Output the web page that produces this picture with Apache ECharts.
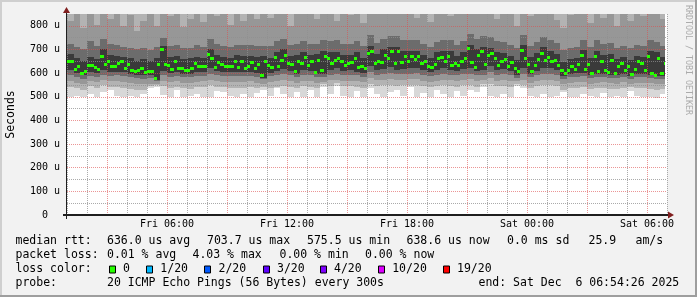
<!DOCTYPE html>
<html><head><meta charset="utf-8">
<script src="https://cdn.jsdelivr.net/npm/echarts@6/dist/echarts.min.js"></script>
<style>html,body{margin:0;padding:0;background:#F2F2F2}#c{width:697px;height:297px}</style>
</head><body><div id="c"></div>
<script>
// ---- data (hours counted from Fri 00:00) ----
const startHour = 1;          // Fri 01:00
const endHour = 31;           // Sat 07:00
const dataEndHour = 30.9;     // Sat 06:54
const medianStepMin = 10;
const smokeStepMin = 20;
const yMaxUs = 850;

const xTickHours = [6, 12, 18, 24, 30];
const xTickLabels = ['Fri 06:00', 'Fri 12:00', 'Fri 18:00', 'Sat 00:00', 'Sat 06:00'];
const yTickValues = [0, 100, 200, 300, 400, 500, 600, 700, 800];
const yTickLabels = ['0  ', '100 u', '200 u', '300 u', '400 u', '500 u', '600 u', '700 u', '800 u'];

// median rtt (us), one value per 10 minutes
const medianRtt = [
650,650,615,630,598,605,634,634,623,617,
672,636,650,627,628,641,648,620,637,609,
606,609,620,603,606,606,578,637,701,637,
634,615,650,620,618,609,609,620,640,627,
627,630,679,662,625,645,637,627,627,630,
650,623,648,620,627,645,620,637,592,650,
634,623,665,627,655,673,641,637,606,650,
641,665,631,650,603,655,609,669,662,642,
655,662,648,634,641,645,662,623,630,620,
683,690,641,650,645,676,662,690,641,690,
645,669,650,669,659,669,641,648,627,625,
637,662,665,650,669,634,641,634,650,662,
704,646,625,676,690,635,673,683,660,634,
650,656,630,645,620,605,697,660,637,606,
631,659,683,655,665,650,655,634,613,600,
609,630,615,637,673,615,637,598,669,606,
650,610,603,655,600,627,641,611,627,594,
615,648,641,610,669,598,592,662,598,641];

// smoke band edges (us), one value per 20 minutes
const smokeALo = [
500,505,498,510,500,520,530,502,498,505, 500,512,535,540,508,500,528,498,505,510,
500,498,525,520,503,498,510,500,515,530, 505,535,510,500,520,500,530,498,540,510,
545,505,500,525,500,535,510,498,520,530, 505,540,500,515,500,530,510,500,525,505,
530,520,540,505,498,510,500,545,535,505, 500,512,498,505,520,500,498,510,503,500,
515,498,505,500,525,505,498,500,495,510];
const smokeBLo = [
540,535,530,545,538,548,542,540,536,532, 528,530,545,550,545,538,540,535,534,540,
542,548,542,540,538,538,536,540,535,542, 538,542,546,542,536,544,542,536,552,546,
558,544,544,542,538,552,546,548,550,546, 548,550,550,544,540,544,548,546,542,548,
550,542,555,552,544,546,542,556,548,536, 544,548,548,544,530,535,538,540,532,536,
538,534,532,536,540,535,536,534,530,532];
const smokeCLo = [
565,560,555,565,562,570,566,565,563,560, 556,554,555,556,568,562,566,560,558,564,
565,572,566,564,563,562,562,565,560,555, 562,566,570,566,560,568,566,560,562,570,
572,568,568,566,562,578,570,572,575,572, 572,574,575,568,564,568,572,570,566,572,
574,566,570,578,568,570,566,566,572,560, 568,572,572,568,555,560,562,564,556,560,
562,558,556,562,554,560,560,558,554,556];
const smokeCHi = [
820,850,790,860,805,860,830,850,800,845, 780,820,860,800,860,840,860,795,830,860,
815,860,840,860,805,850,820,860,830,860, 835,860,860,800,860,850,860,830,860,860,
820,860,845,860,810,860,860,860,860,850, 860,860,835,860,815,860,860,840,860,860,
860,860,860,860,830,860,850,800,860,840, 860,860,860,825,790,845,860,860,810,860,
835,860,800,850,820,860,840,860,860,830];
const smokeDLo = [
590,585,575,588,585,592,588,590,586,582, 578,576,578,565,590,584,588,582,582,588,
588,598,590,588,588,586,586,588,584,574, 586,590,596,590,582,592,590,582,584,594,
598,592,592,590,585,605,594,596,602,595, 596,598,600,592,588,592,598,594,590,596,
598,590,594,605,592,596,590,580,598,582, 592,598,598,592,576,582,584,586,578,582,
584,580,578,584,574,584,584,578,574,576];
const smokeDHi = [
725,710,700,735,715,745,725,720,712,708, 700,705,698,710,750,715,720,705,708,718,
712,745,722,715,712,720,718,720,715,716, 714,735,745,720,722,735,722,725,738,735,
738,722,724,735,714,760,728,745,755,755, 740,742,740,725,712,732,738,740,720,735,
765,745,755,752,735,730,718,705,760,715, 730,752,738,728,698,708,712,742,712,738,
722,726,705,715,705,718,715,738,732,715];
const smokeELo = [
615,600,590,605,600,612,605,606,603,598, 592,590,592,572,610,600,604,596,596,606,
606,620,608,606,606,604,604,606,600,580, 602,608,618,610,596,612,608,595,598,615,
620,610,612,605,600,630,615,618,625,615, 618,620,622,612,604,612,620,614,610,618,
622,608,615,630,612,618,608,592,620,596, 610,622,620,612,588,596,600,602,590,596,
598,592,590,598,586,598,598,590,586,588];
const smokeEHi = [
680,665,650,670,660,700,675,672,668,664, 652,658,650,662,715,668,672,660,662,668,
664,700,675,668,664,675,672,672,668,672, 666,690,700,672,675,690,676,680,692,690,
690,675,676,688,665,715,680,700,712,712, 695,695,695,678,662,688,692,695,672,690,
720,700,712,708,690,685,672,655,720,668, 685,710,692,680,648,660,665,698,665,692,
675,680,658,668,655,672,668,692,688,668];

// legend texts
const statsRtt = ['636.0 us avg', '703.7 us max', '575.5 us min', '638.6 us now', '0.0 ms sd', '25.9', 'am/s'];
const statsLoss = ['0.01 % avg', '4.03 % max', '0.00 % min', '0.00 % now'];
const lossLabels = ['0', '1/20', '2/20', '3/20', '4/20', '10/20', '19/20'];
const lossColors = ['#26ff00', '#00b8ff', '#0059ff', '#5e00ff', '#7e00ff', '#dd00ff', '#ff0000'];
const probeText = '20 ICMP Echo Pings (56 Bytes) every 300s';
const endText = 'end: Sat Dec  6 06:54:26 2025';

// ---- layout / style ----
const W = 697, H = 297;
const gL = 67, gT = 14, gW = 600, gH = 201;
const MONO = '"DejaVu Sans Mono", monospace';
const legendFont = '11.5px ' + MONO;
const minorGrid = 'rgba(143,143,143,0.75)';
const majorGrid = 'rgba(222,79,79,0.6)';
const arrowColor = '#801F1F';
const axisColor = '#1F1F1F';
const bandColors = ['#D8D8D8', '#B3B3B3', '#979797', '#6C6C6C', '#3A3A3A'];

function blocks(stepMin, n) {
  const out = [];
  for (let j = 0; j < n; j++) {
    const t0 = startHour + j * stepMin / 60;
    out.push([t0, Math.min(t0 + stepMin / 60, dataEndHour)]);
  }
  return out;
}
const smokeBlocks = blocks(smokeStepMin, smokeALo.length);
const medBlocks = blocks(medianStepMin, medianRtt.length);

function band(lo, hi) {
  return lo.map((v, j) => [smokeBlocks[j][0], smokeBlocks[j][1], v, hi ? hi[j] : yMaxUs]);
}
const bands = [
  band(smokeALo, null), band(smokeBLo, null), band(smokeCLo, smokeCHi),
  band(smokeDLo, smokeDHi), band(smokeELo, smokeEHi)
];

function rectRender(color) {
  return function (params, api) {
    const x0 = Math.round(api.coord([api.value(0), api.value(2)])[0]);
    const x1 = Math.round(api.coord([api.value(1), api.value(2)])[0]);
    const yb = Math.round(api.coord([api.value(0), api.value(2)])[1]);
    const yt = Math.round(api.coord([api.value(0), Math.min(api.value(3), yMaxUs)])[1]);
    return { type: 'rect', shape: { x: x0, y: yt, width: x1 - x0, height: yb - yt }, style: { fill: color } };
  };
}

const series = bands.map((d, i) => ({
  type: 'custom', data: d, z: 2, silent: true, animation: false,
  encode: { x: [0, 1], y: [2, 3] }, renderItem: rectRender(bandColors[i])
}));
series.push({
  type: 'custom', z: 5, silent: true, animation: false,
  data: medianRtt.map((v, k) => [medBlocks[k][0], medBlocks[k][1], v]),
  encode: { x: [0, 1], y: 2 },
  renderItem: function (params, api) {
    const x0 = Math.round(api.coord([api.value(0), api.value(2)])[0]);
    const x1 = Math.round(api.coord([api.value(1), api.value(2)])[0]);
    const y = Math.round(api.coord([api.value(0), api.value(2)])[1] - 1.5);
    return { type: 'rect', shape: { x: x0, y: y, width: x1 - x0, height: 3 }, style: { fill: lossColors[0] } };
  }
});

// ---- graphics: frame, axes, arrows, legend ----
const g = [];
g.push({ type: 'rect', shape: { x: 0, y: 0, width: W, height: 2 }, style: { fill: '#CFCFCF' }, z: 1 });
g.push({ type: 'rect', shape: { x: 0, y: 0, width: 2, height: H }, style: { fill: '#CFCFCF' }, z: 1 });
g.push({ type: 'rect', shape: { x: 0, y: H - 2, width: W, height: 2 }, style: { fill: '#9E9E9E' }, z: 1 });
g.push({ type: 'rect', shape: { x: W - 2, y: 0, width: 2, height: H }, style: { fill: '#9E9E9E' }, z: 1 });
const y0 = gT + gH;
g.push({ type: 'rect', shape: { x: gL - 1, y: gT - 1, width: 1, height: gH + 5 }, style: { fill: axisColor }, z: 20 });
g.push({ type: 'rect', shape: { x: gL - 4, y: y0 - 1, width: gW + 5, height: 2 }, style: { fill: axisColor }, z: 20 });
g.push({ type: 'polygon', shape: { points: [[gL - 4, gT - 1], [gL + 3, gT - 1], [gL - 0.5, gT - 7]] }, style: { fill: arrowColor }, z: 21 });
g.push({ type: 'polygon', shape: { points: [[gL + gW + 1, y0 - 3.5], [gL + gW + 1, y0 + 3.5], [gL + gW + 7, y0]] }, style: { fill: arrowColor }, z: 21 });

function txt(s, x, y, font, fill, extra) {
  g.push(Object.assign({ type: 'text', x: x, y: y, z: 30, silent: true,
    style: { text: s, font: font, fill: fill || '#000', verticalAlign: 'middle', align: 'left' } }, extra || {}));
}
// y axis unit
g.push({ type: 'text', x: 11, y: gT + gH / 2, rotation: Math.PI / 2, z: 30,
  style: { text: 'Seconds', font: legendFont, fill: '#000', align: 'center', verticalAlign: 'middle' } });
// watermark
g.push({ type: 'text', x: 688, y: 60, rotation: -Math.PI / 2, z: 30,
  style: { text: 'RRDTOOL / TOBI OETIKER', font: '8.3px ' + MONO, fill: '#ABABAB', align: 'center', verticalAlign: 'middle' } });

const rows = [241.5, 255.5, 269.5, 283.5];
txt('median rtt:', 15.5, rows[0], legendFont);
[107, 207, 307, 406.5, 507, 588.5, 635.5].forEach((x, i) => txt(statsRtt[i], x, rows[0], legendFont));
txt('packet loss:', 15.5, rows[1], legendFont);
[107, 192.5, 279.5, 365].forEach((x, i) => txt(statsLoss[i], x, rows[1], legendFont));
txt('loss color:', 15.5, rows[2], legendFont);
[108.5, 145.8, 204, 262.5, 319.5, 377.7, 442.5].forEach((x, i) => {
  g.push({ type: 'rect', z: 30, shape: { x: Math.round(x) + 0.5, y: 266, width: 6, height: 7 },
    style: { fill: lossColors[i], stroke: '#000', lineWidth: 1 } });
  txt(lossLabels[i], x + 14.5, rows[2], legendFont);
});
txt('probe:', 15.5, rows[3], legendFont);
txt(probeText, 107, rows[3], legendFont);
txt(endText, 478.5, rows[3], legendFont);

const chart = echarts.init(document.getElementById('c'), null, { renderer: 'canvas' });
chart.setOption({
  animation: false,
  backgroundColor: '#F2F2F2',
  grid: { left: gL, top: gT, width: gW, height: gH, show: true, backgroundColor: '#FFFFFF', borderWidth: 0 },
  xAxis: {
    type: 'value', min: startHour, max: endHour, interval: 1, z: 3,
    axisLine: { show: false }, axisTick: { show: false },
    axisLabel: {
      margin: 4, color: '#000', fontFamily: MONO, fontSize: 10,
      formatter: v => { const i = xTickHours.indexOf(Math.round(v)); return i >= 0 ? xTickLabels[i] : ''; }
    },
    splitLine: { show: true, lineStyle: { color: [minorGrid, minorGrid, majorGrid], width: 1, type: [1, 1] } }
  },
  yAxis: {
    type: 'value', min: 0, max: yMaxUs, interval: 50, z: 3,
    axisLine: { show: false }, axisTick: { show: false },
    axisLabel: {
      margin: 7, color: '#000', fontFamily: MONO, fontSize: 10,
      formatter: v => { const i = yTickValues.indexOf(Math.round(v)); return i >= 0 ? yTickLabels[i] : ''; }
    },
    splitLine: { show: true, showMaxLine: false, lineStyle: { color: [majorGrid, minorGrid], width: 1, type: [1, 1] } }
  },
  series: series,
  graphic: g
});
</script></body></html>
